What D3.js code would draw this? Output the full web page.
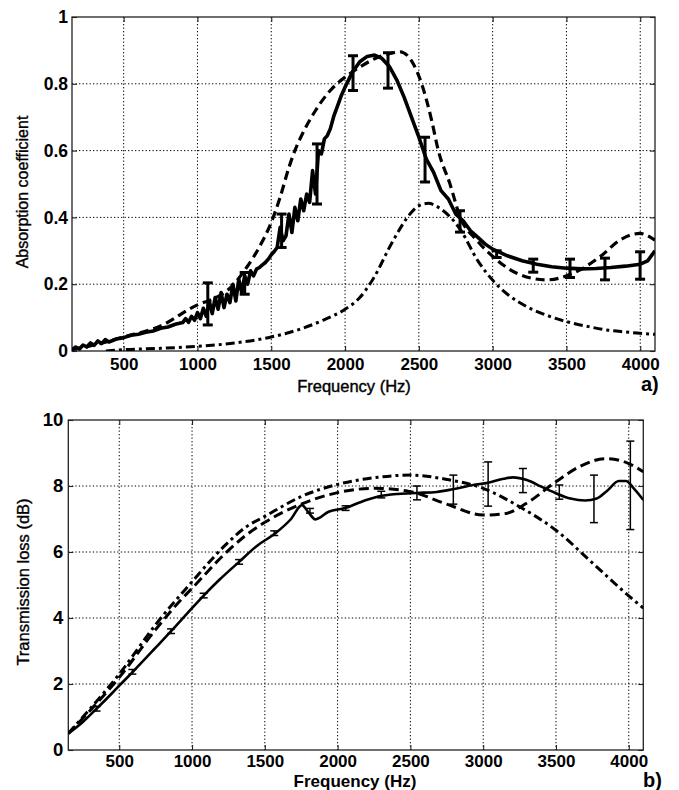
<!DOCTYPE html>
<html><head><meta charset="utf-8">
<script src="https://cdn.jsdelivr.net/npm/d3@7"></script>
<style>body{margin:0;background:#fff} svg{display:block}</style>
</head><body>
<svg id="c" width="679" height="790"></svg>
<script>
// ---------- data ----------
const freqTicks = [500, 1000, 1500, 2000, 2500, 3000, 3500, 4000];
const freqDomain = [150, 4100];
const absTicks = [0, 0.2, 0.4, 0.6, 0.8, 1];
const tlTicks = [0, 2, 4, 6, 8, 10];

// a) absorption coefficient: measured (solid), model 1 (dashed), model 2 (dash-dot)
const absMeasured = [[150,.004],[175,.012],[200,.006],[225,.018],[250,.012],[275,.024],[300,.017],[325,.03],[350,.022],[375,.034],[400,.027],[450,.036],[500,.04],[550,.047],[600,.05],[650,.056],[700,.06],[750,.068],[800,.072],[850,.08],[900,.085],[920,.097],[940,.086],[960,.104],[980,.092],[1000,.115],[1020,.097],[1040,.128],[1060,.104],[1080,.15],[1100,.112],[1120,.16],[1140,.125],[1160,.175],[1180,.13],[1200,.17],[1220,.145],[1240,.2],[1260,.15],[1280,.215],[1300,.175],[1320,.225],[1340,.2],[1360,.24],[1380,.225],[1400,.245],[1420,.25],[1440,.258],[1460,.265],[1480,.275],[1500,.288],[1520,.298],[1540,.31],[1560,.37],[1580,.33],[1600,.345],[1620,.41],[1640,.355],[1660,.43],[1680,.39],[1700,.455],[1720,.42],[1740,.47],[1760,.445],[1780,.54],[1800,.47],[1820,.6],[1840,.59],[1860,.635],[1880,.645],[1900,.665],[1925,.705],[1950,.735],[1975,.765],[2000,.79],[2050,.835],[2100,.866],[2150,.882],[2200,.886],[2250,.876],[2300,.852],[2350,.812],[2400,.76],[2450,.7],[2500,.64],[2550,.575],[2600,.535],[2650,.48],[2700,.455],[2750,.41],[2800,.39],[2850,.36],[2900,.34],[2950,.32],[3000,.305],[3100,.285],[3200,.27],[3300,.26],[3400,.252],[3500,.248],[3600,.246],[3700,.247],[3800,.25],[3900,.254],[4000,.26],[4050,.27],[4100,.3]];
const absModel1 = [[150,.004],[300,.018],[500,.042],[750,.075],[1000,.138],[1100,.155],[1200,.18],[1333,.25],[1430,.32],[1500,.385],[1560,.46],[1620,.55],[1660,.6],[1700,.64],[1800,.72],[1900,.78],[1945,.8],[2000,.82],[2100,.85],[2200,.875],[2300,.89],[2372,.896],[2462,.86],[2519,.8],[2587,.69],[2632,.6],[2711,.5],[2779,.402],[2892,.332],[3004,.282],[3163,.233],[3366,.213],[3546,.233],[3727,.282],[3862,.332],[3998,.352],[4100,.332]];
const absModel2 = [[380,0],[500,.004],[750,.008],[1000,.014],[1250,.024],[1500,.042],[1700,.066],[1850,.092],[2000,.125],[2100,.16],[2189,.215],[2325,.33],[2440,.41],[2500,.435],[2564,.442],[2650,.425],[2779,.365],[2900,.27],[3004,.21],[3100,.17],[3230,.133],[3360,.108],[3501,.088],[3650,.073],[3772,.063],[3900,.057],[4000,.053],[4100,.05]];
const absErrors = [[1070,.078,.204],[1320,.17,.235],[1570,.31,.41],[1810,.44,.62],[2054,.78,.884],[2291,.787,.893],[2542,.506,.64],[2779,.356,.42],[3027,.28,.30],[3275,.236,.275],[3524,.22,.275],[3761,.213,.278],[3999,.215,.297]];

// b) transmission loss (dB)
const tlMeasured = [[150,.5],[250,.85],[344,1.25],[450,1.72],[500,1.95],[600,2.4],[750,3.1],[856,3.6],[1000,4.3],[1080,4.68],[1186,5.15],[1323,5.7],[1450,6.2],[1573,6.57],[1680,7.0],[1755,7.42],[1800,7.2],[1847,6.99],[1938,7.22],[2052,7.33],[2150,7.5],[2279,7.68],[2416,7.76],[2545,7.79],[2680,7.82],[2790,7.9],[2932,8.03],[3034,8.1],[3140,8.22],[3205,8.26],[3300,8.18],[3400,7.98],[3500,7.78],[3600,7.62],[3700,7.56],[3780,7.62],[3850,7.85],[3932,8.15],[3980,8.15],[4040,7.9],[4100,7.58]];
const tlModel1 = [[150,.5],[300,1.2],[500,2.2],[750,3.65],[913,4.5],[1000,4.9],[1250,6.05],[1368,6.5],[1500,6.9],[1750,7.45],[2000,7.8],[2250,7.93],[2500,7.83],[2750,7.45],[3000,7.12],[3159,7.17],[3295,7.47],[3500,8.13],[3659,8.58],[3841,8.83],[4000,8.68],[4100,8.43]];
const tlModel2 = [[150,.5],[300,1.25],[500,2.3],[750,3.8],[1000,5.1],[1250,6.3],[1368,6.75],[1500,7.08],[1750,7.68],[2000,8.05],[2250,8.25],[2500,8.33],[2750,8.2],[3000,7.93],[3250,7.37],[3500,6.66],[3750,5.67],[4000,4.67],[4100,4.3]];
const tlErrors = [[344,1.18,1.32],[590,2.3,2.44],[856,3.53,3.67],[1080,4.61,4.75],[1323,5.63,5.77],[1565,6.5,6.64],[1810,7.18,7.32],[2055,7.26,7.4],[2300,7.64,7.84],[2545,7.58,8.0],[2795,7.45,8.33],[3034,7.39,8.73],[3273,7.8,8.53],[3523,7.6,8.03],[3761,6.89,8.33],[4011,6.68,9.36]];

// ---------- drawing ----------
const svg = d3.select("#c");
const FONT = "'Liberation Sans', Arial, Helvetica, sans-serif";

function panel(o) {
  const x = d3.scaleLinear().domain(freqDomain).range([o.left, o.right]);
  const y = d3.scaleLinear().domain([o.yTicks[0], o.yTicks[o.yTicks.length-1]]).range([o.bottom, o.top]);
  const g = svg.append("g");

  // grid
  g.selectAll(null).data(freqTicks).join("line")
    .attr("x1", d => x(d)).attr("x2", d => x(d)).attr("y1", o.top).attr("y2", o.bottom)
    .attr("stroke", "#000").attr("stroke-width", 1).attr("stroke-dasharray", "1.3,2.2");
  g.selectAll(null).data(o.yTicks.slice(1, -1)).join("line")
    .attr("x1", o.left).attr("x2", o.right).attr("y1", d => y(d)).attr("y2", d => y(d))
    .attr("stroke", "#000").attr("stroke-width", 1).attr("stroke-dasharray", "1.3,2.2");

  // axes
  const styleAxis = (sel, fs) => {
    sel.select(".domain").remove();
    sel.selectAll(".tick line").attr("stroke", "#222").attr("stroke-width", 1.1);
    sel.selectAll(".tick text").attr("fill", "#000").attr("font-family", FONT)
      .attr("font-weight", "bold").attr("font-size", fs);
  };
  g.append("g").attr("transform", `translate(0,${o.bottom})`)
    .call(d3.axisBottom(x).tickValues(freqTicks).tickSize(-5).tickPadding(o.xPad).tickFormat(d3.format("d")))
    .call(s => styleAxis(s, o.xfs));
  g.append("g").attr("transform", `translate(0,${o.top})`)
    .call(d3.axisTop(x).tickValues(freqTicks).tickSize(-5).tickFormat(""))
    .call(s => styleAxis(s, o.xfs));
  g.append("g").attr("transform", `translate(${o.left},0)`)
    .call(d3.axisLeft(y).tickValues(o.yTicks).tickSize(-5).tickPadding(o.yPad).tickFormat(d => String(d)))
    .call(s => styleAxis(s, o.yfs));
  g.append("g").attr("transform", `translate(${o.right},0)`)
    .call(d3.axisRight(y).tickValues(o.yTicks).tickSize(-5).tickFormat(""))
    .call(s => styleAxis(s, o.yfs));

  // frame
  g.append("rect").attr("x", o.left).attr("y", o.top)
    .attr("width", o.right - o.left).attr("height", o.bottom - o.top)
    .attr("fill", "none").attr("stroke", "#222").attr("stroke-width", 1.3);

  // curves
  const line = d3.line().x(d => x(d[0])).y(d => y(d[1]));
  const clip = "clip" + o.id;
  svg.append("clipPath").attr("id", clip).append("rect")
    .attr("x", o.left).attr("y", o.top - 2).attr("width", o.right - o.left).attr("height", o.bottom - o.top + 2);
  const cg = g.append("g").attr("clip-path", `url(#${clip})`);
  o.series.forEach(s => {
    cg.append("path").datum(s.data)
      .attr("d", line.curve(s.curve)(s.data))
      .attr("fill", "none").attr("stroke", "#000")
      .attr("stroke-width", s.w).attr("stroke-dasharray", s.dash || null)
      .attr("stroke-linejoin", "round");
  });

  // error bars
  const eb = g.append("g").attr("stroke", "#000").attr("stroke-width", o.ebw);
  o.errors.forEach(e => {
    const cx = x(e[0]);
    eb.append("line").attr("x1", cx).attr("x2", cx).attr("y1", y(e[1])).attr("y2", y(e[2]));
    eb.append("line").attr("x1", cx - o.cap).attr("x2", cx + o.cap).attr("y1", y(e[1])).attr("y2", y(e[1]));
    eb.append("line").attr("x1", cx - o.cap).attr("x2", cx + o.cap).attr("y1", y(e[2])).attr("y2", y(e[2]));
  });

  // labels
  svg.append("text").attr("x", o.xlabX).attr("y", o.xlabY).attr("text-anchor", "middle")
    .attr("font-family", FONT).attr("font-size", o.xlabFs).attr("font-weight", o.xlabW)
    .attr("stroke", "#000").attr("stroke-width", o.xlabStroke)
    .text("Frequency (Hz)");
  svg.append("text").attr("transform", `translate(${o.ylabX},${o.ylabY}) rotate(-90)`)
    .attr("text-anchor", "middle").attr("font-family", FONT).attr("font-size", o.ylabFs)
    .attr("stroke", "#000").attr("stroke-width", 0.35)
    .text(o.ylabel);
  svg.append("text").attr("x", o.tagX).attr("y", o.tagY)
    .attr("font-family", FONT).attr("font-size", 20).attr("font-weight", "bold")
    .text(o.tag);
}

panel({
  id: "a", left: 72, right: 655, top: 17, bottom: 351,
  yTicks: absTicks, xPad: 7, yPad: 4, xfs: 17, yfs: 17.5,
  series: [
    { data: absModel2, curve: d3.curveMonotoneX, w: 3, dash: "9,4,3,4" },
    { data: absModel1, curve: d3.curveMonotoneX, w: 3.2, dash: "9,5" },
    { data: absMeasured, curve: d3.curveLinear, w: 3.6 }
  ],
  errors: absErrors, ebw: 3, cap: 5,
  xlabX: 354, xlabY: 392, xlabFs: 16.5, xlabW: "normal", xlabStroke: 0.4,
  ylabX: 28, ylabY: 192, ylabFs: 16, ylabel: "Absorption coefficient",
  tagX: 641, tagY: 391, tag: "a)"
});

panel({
  id: "b", left: 68.3, right: 643.3, top: 420, bottom: 750,
  yTicks: tlTicks, xPad: 5, yPad: 5, xfs: 17, yfs: 18.5,
  series: [
    { data: tlModel2, curve: d3.curveMonotoneX, w: 3, dash: "9,4,3,4" },
    { data: tlModel1, curve: d3.curveMonotoneX, w: 3, dash: "10,5" },
    { data: tlMeasured, curve: d3.curveMonotoneX, w: 2.6 }
  ],
  errors: tlErrors, ebw: 1.5, cap: 4,
  xlabX: 355, xlabY: 787, xlabFs: 17, xlabW: "bold", xlabStroke: 0,
  ylabX: 29, ylabY: 582, ylabFs: 16.5, ylabel: "Transmission loss (dB)",
  tagX: 643, tagY: 787, tag: "b)"
});
</script>
</body></html>
